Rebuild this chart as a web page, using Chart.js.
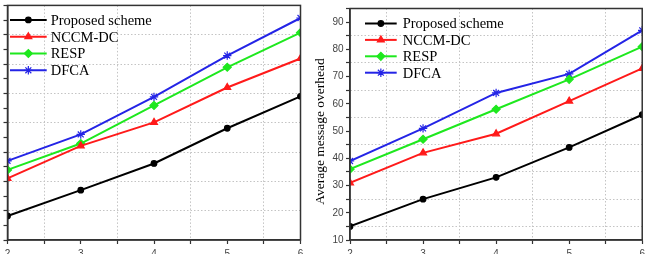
<!DOCTYPE html>
<html>
<head>
<meta charset="utf-8">
<script src="https://cdn.jsdelivr.net/npm/chart.js@4.4.1/dist/chart.umd.min.js"></script>
<style>
  html, body { margin: 0; padding: 0; background: #fff; width: 649px; height: 254px; overflow: hidden; }
  canvas { position: absolute; top: 0; }
  #leftChart { left: 0; }
  #rightChart { left: 305px; }
</style>
</head>
<body>
<canvas id="leftChart" width="310" height="254"></canvas>
<canvas id="rightChart" width="344" height="254"></canvas>
<script>
/* ---- Data ---- */
const xValues = [2, 3, 4, 5, 6];
const seriesNames = ["Proposed scheme", "NCCM-DC", "RESP", "DFCA"];

// left panel: its y labels are cut off in the picture, values read on a 0..80 scale
const leftProposed = [8.2, 17.0, 26.1, 38.1, 49.0];
const leftNccm     = [21.0, 32.1, 40.1, 52.0, 61.9];
const leftResp     = [23.9, 32.9, 45.9, 58.9, 70.7];
const leftDfca     = [27.0, 36.0, 48.8, 62.9, 75.7];

// right panel: average message overhead
const rightProposed = [15, 25, 33, 44, 56];
const rightNccm     = [31, 42, 49, 61, 73];
const rightResp     = [36, 47, 58, 69, 81];
const rightDfca     = [39, 51, 64, 71, 87];
const rightYTitle = "Average message overhead";


/* ---- Colours ---- */
const palette = {
  black: "#000000",
  red:   "#ff1a1a",
  green: "#1ee81e",
  blue:  "#2424e6",
  axis:  "#333333",
  grid:  "#c4c4c4",
  tick:  "#444444"
};

const seriesStyle = [
  { color: palette.black, pointStyle: "circle",   radius: 2.8 },
  { color: palette.red,   pointStyle: "triangle", radius: 4 },
  { color: palette.green, pointStyle: "rectRot",  radius: 4 },
  { color: palette.blue,  pointStyle: "star",     radius: 4.2 }
];

const serifFont = "'Liberation Serif', 'Times New Roman', serif";
const sansFont = "'Liberation Sans', Arial, sans-serif";


function makeDatasets(seriesValues) {
  return seriesValues.map((values, i) => ({
    label: seriesNames[i],
    data: xValues.map((x, j) => ({ x: x, y: values[j] })),
    borderColor: seriesStyle[i].color,
    backgroundColor: seriesStyle[i].color,
    borderWidth: 2,
    pointStyle: seriesStyle[i].pointStyle,
    pointRadius: seriesStyle[i].radius,
    pointBorderWidth: 1.2,
    pointBorderColor: seriesStyle[i].color,
    pointBackgroundColor: seriesStyle[i].color,
    tension: 0
  }));
}


/* ---- Plugins ---- */
const framePlugin = {
  id: "frame",
  afterDatasetsDraw(chart) {
    const { ctx, chartArea: a } = chart;
    ctx.save();
    ctx.strokeStyle = palette.axis;
    ctx.lineWidth = 1.5;
    ctx.strokeRect(a.left, a.top, a.right - a.left, a.bottom - a.top);
    ctx.restore();
  }
};

// legend with a line + marker sample, drawn inside the plot area
const lineLegendPlugin = {
  id: "lineLegend",
  afterDatasetsDraw(chart, args, opts) {
    const { ctx, chartArea: a } = chart;
    const helpers = Chart.helpers;
    chart.data.datasets.forEach((ds, i) => {
      const y = a.top + opts.y0 + i * opts.dy;
      const x1 = a.left + opts.x0;
      const x2 = x1 + opts.lineLen;
      ctx.save();
      ctx.strokeStyle = ds.borderColor;
      ctx.lineWidth = 2;
      ctx.beginPath();
      ctx.moveTo(x1, y);
      ctx.lineTo(x2, y);
      ctx.stroke();
      ctx.fillStyle = ds.pointBackgroundColor;
      ctx.lineWidth = ds.pointBorderWidth;
      if (helpers && helpers.drawPoint) {
        helpers.drawPoint(ctx, {
          pointStyle: ds.pointStyle,
          radius: ds.pointRadius,
          rotation: 0,
          borderWidth: ds.pointBorderWidth
        }, (x1 + x2) / 2, y);
      }
      ctx.fillStyle = "#000";
      ctx.font = "14.5px " + serifFont;
      ctx.textAlign = "left";
      ctx.textBaseline = "middle";
      ctx.fillText(ds.label, a.left + opts.textX, y + 1);
      ctx.restore();
    });
  }
};

const yTitlePlugin = {
  id: "yTitle",
  afterDraw(chart, args, opts) {
    if (!opts.text) return;
    const ctx = chart.ctx;
    ctx.save();
    ctx.translate(opts.x, opts.y);
    ctx.rotate(-Math.PI / 2);
    ctx.fillStyle = "#000";
    ctx.font = "13.5px " + serifFont;
    ctx.textAlign = "center";
    ctx.textBaseline = "middle";
    ctx.fillText(opts.text, 0, 0);
    ctx.restore();
  }
};


/* ---- Scales ---- */
function xScale() {
  return {
    type: "linear",
    min: 2,
    max: 6,
    ticks: {
      stepSize: 0.5,
      autoSkip: false,
      maxRotation: 0,
      padding: 4,
      color: palette.tick,
      font: { family: sansFont, size: 10 },
      callback: v => Number.isInteger(v) ? v : ""
    },
    grid: {
      color: c => (c.tick && c.tick.value % 1 !== 0) ? palette.grid : "rgba(0,0,0,0)",
      lineWidth: 1,
      tickColor: palette.axis,
      tickLength: 4,
      tickWidth: 1.2
    },
    border: { color: palette.axis, width: 1.5, dash: [1.5, 2] },
    afterFit: s => { s.height = 14; }
  };
}

function yScale(min, max, gridRest, showLabels, width) {
  return {
    min: min,
    max: max,
    ticks: {
      stepSize: 5,
      autoSkip: false,
      display: showLabels,
      padding: 2.5,
      color: palette.tick,
      font: { family: sansFont, size: 10 },
      callback: v => v % 10 === 0 ? v : ""
    },
    grid: {
      color: c => {
        const v = c.tick ? c.tick.value : null;
        return (v !== null && v > min && v < max && v % 10 === gridRest) ? palette.grid : "rgba(0,0,0,0)";
      },
      lineWidth: 1,
      tickColor: palette.axis,
      tickLength: 4,
      tickWidth: 1.2
    },
    border: { color: palette.axis, width: 1.5, dash: [1.5, 2] },
    afterFit: s => { s.width = width; }
  };
}


/* ---- Charts ---- */
function initLeftChart() {
  new Chart(document.getElementById("leftChart"), {
    type: "line",
    data: { datasets: makeDatasets([leftProposed, leftNccm, leftResp, leftDfca]) },
    options: {
      responsive: false,
      animation: false,
      layout: { padding: { left: 0, top: 5, right: 9.5, bottom: 0 } },
      scales: {
        x: xScale(),
        y: yScale(0, 80, 0, false, 7.5)
      },
      plugins: {
        legend: { display: false },
        tooltip: { enabled: false },
        lineLegend: { x0: 2.5, lineLen: 36.7, textX: 43.2, y0: 14.5, dy: 16.8 },
        yTitle: { text: "" }
      }
    },
    plugins: [framePlugin, lineLegendPlugin, yTitlePlugin]
  });
}

function initRightChart() {
  new Chart(document.getElementById("rightChart"), {
    type: "line",
    data: { datasets: makeDatasets([rightProposed, rightNccm, rightResp, rightDfca]) },
    options: {
      responsive: false,
      animation: false,
      layout: { padding: { left: 0, top: 5, right: 6.5, bottom: 0 } },
      scales: {
        x: xScale(),
        y: yScale(10, 95, 5, true, 45)
      },
      plugins: {
        legend: { display: false },
        tooltip: { enabled: false },
        lineLegend: { x0: 15, lineLen: 31.7, textX: 52.7, y0: 15, dy: 16.4 },
        yTitle: { text: rightYTitle, x: 15, y: 131.5 }
      }
    },
    plugins: [framePlugin, lineLegendPlugin, yTitlePlugin]
  });
}

initLeftChart();
initRightChart();
</script>
</body>
</html>
